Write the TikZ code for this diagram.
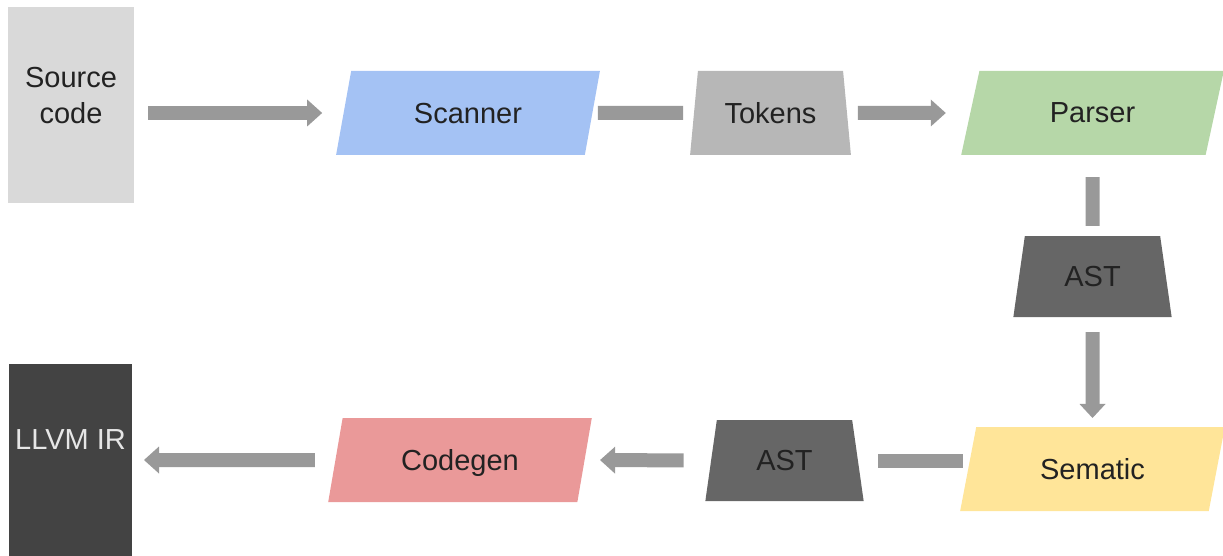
\documentclass[tikz,border=0pt]{standalone}
\usepackage{fontspec}
\setmainfont{Liberation Sans}
\usetikzlibrary{shapes.geometric,arrows.meta}
\definecolor{srcgray}{HTML}{D9D9D9}
\definecolor{arrgray}{HTML}{999999}
\definecolor{scanblue}{HTML}{A4C2F4}
\definecolor{tokgray}{HTML}{B7B7B7}
\definecolor{parsegreen}{HTML}{B6D7A8}
\definecolor{astgray}{HTML}{666666}
\definecolor{semyellow}{HTML}{FFE599}
\definecolor{codered}{HTML}{EA9999}
\definecolor{llvmgray}{HTML}{434343}
\definecolor{txt}{HTML}{222222}
\definecolor{llvmtext}{HTML}{E6E6E6}
\begin{document}
\begin{tikzpicture}[x=1pt,y=-1pt,
  every node/.style={font=\fontsize{29}{36}\selectfont, text=txt, inner sep=0pt, outer sep=0pt, text depth=0pt},
  para/.style={trapezium, trapezium left angle=71, trapezium right angle=109,
    trapezium stretches=true, minimum width=264pt, minimum height=84pt},
  trap/.style={trapezium, trapezium left angle=76.7, trapezium right angle=76.7,
    trapezium stretches=true, minimum width=160pt, minimum height=82pt},
  conn/.style={draw=arrgray, line width=14pt},
  arr/.style={conn, -{Triangle[length=15pt,width=27pt,line width=0pt]}},
  varr/.style={conn, -{Triangle[length=14pt,width=26pt,line width=0pt]}},
]
\path[use as bounding box, clip] (0,0) rectangle (1223,556);

\node[fill=srcgray, minimum width=126pt, minimum height=196pt,
  label={[align=center,yshift=10pt]center:{Source\\code}}] (src) at (71,105) {};
\node[para, fill=scanblue] (scanner) at (468,113) {Scanner};
\node[trap, fill=tokgray, minimum width=161pt, minimum height=84pt] (tokens) at (770.5,113) {Tokens};
\node[para, fill=parsegreen, minimum width=265pt] (parser) at (1092.5,113) {Parser};
\node[trap, fill=astgray, minimum width=159pt, minimum height=81pt] (ast1) at (1092.5,276.5) {AST};
\node[para, fill=semyellow, minimum width=265pt] (sematic) at (1092.5,469) {Sematic};
\node[trap, fill=astgray, minimum width=159pt, minimum height=81pt] (ast2) at (784.5,460.5) {AST};
\node[para, fill=codered] (codegen) at (460,460) {Codegen};
\node[fill=llvmgray, minimum width=123pt, minimum height=192pt,
  label={[text=llvmtext,yshift=20pt]center:{LLVM IR}}] (llvm) at (70.5,460) {};

\draw[arr, shorten <=14pt, shorten >=21.5pt] (src.east |- scanner.west) -- (scanner.west);
\draw[conn, shorten <=5.5pt, shorten >=11pt] (scanner.east) -- (tokens.west);
\draw[arr, shorten <=11pt, shorten >=24.5pt] (tokens.east) -- (parser.west);
\draw[conn, shorten <=22pt, shorten >=10pt] (parser.south) -- (ast1.north);
\draw[varr, shorten <=15pt, shorten >=9pt] (ast1.south) -- (sematic.north);
\draw[conn, shorten <=5.5pt, shorten >=20.5pt] (sematic.west |- ast2.east) -- (ast2.east);
\draw[arr, shorten <=27.5pt, shorten >=15.5pt] (ast2.west) -- (codegen.east);
\draw[arr, shorten <=20.5pt, shorten >=12pt] (codegen.west) -- (llvm.east);
\end{tikzpicture}
\end{document}
